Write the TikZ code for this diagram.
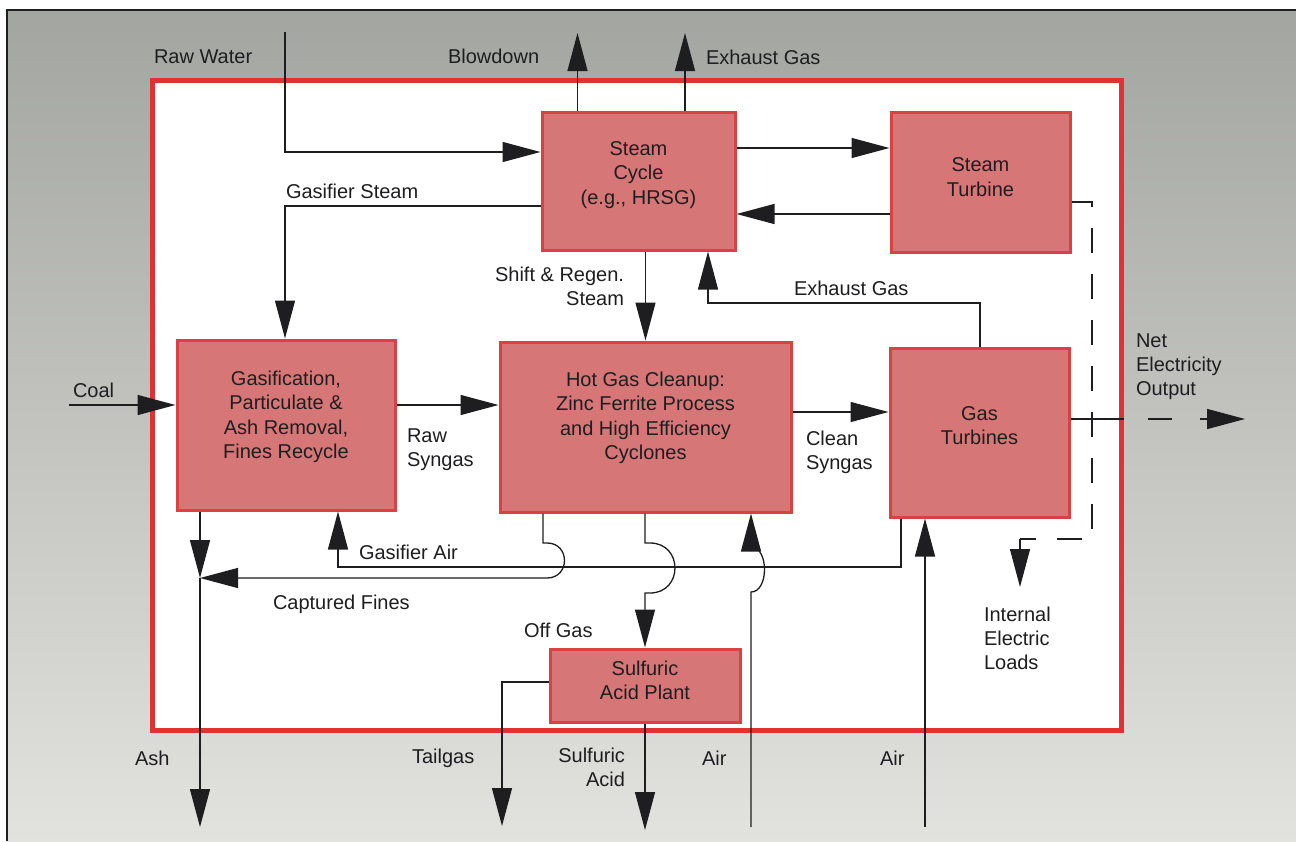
\documentclass[tikz,border=0pt]{standalone}
\usepackage{fontspec}
\setmainfont{Liberation Sans}
\usetikzlibrary{arrows.meta,calc}
\definecolor{bgtop}{RGB}{163,165,161}
\definecolor{bgbot}{RGB}{226,226,222}
\definecolor{framered}{RGB}{224,50,50}
\definecolor{boxfill}{RGB}{214,118,118}
\definecolor{boxedge}{RGB}{218,66,66}
\definecolor{ink}{RGB}{30,30,32}
\newcommand\boxtext[2]{\raisebox{#1}[\height][\depth]{\begin{tabular}{@{}c@{}}#2\end{tabular}}}
\begin{document}
\begin{tikzpicture}[x=1pt,y=-1pt,
  proc/.style={draw=boxedge, line width=3pt, fill=boxfill, text=ink,
    font=\fontsize{20}{24.5}\selectfont, inner sep=0pt},
  lbl/.style={text=ink, font=\fontsize{20}{24}\selectfont, inner sep=0pt, outer sep=0pt},
  conn/.style={draw=ink, line width=1.3pt},
  flow/.style={conn, -{Triangle[length=38pt,width=20pt]}},
  elec/.style={conn, dash pattern=on 25pt off 21pt}]
\useasboundingbox (0,0) rectangle (1296,841);
% background
\fill[white] (0,0) rectangle (1296,841);
\shade[top color=bgtop, bottom color=bgbot] (7,10) rectangle (1296,841);
\draw[ink, line width=1.5pt] (7,841) -- (7,10) -- (1296,10);
% system frame
\draw[framered, line width=5pt, fill=white] (152,80) rectangle (1121,730);
% process boxes
\node[proc, minimum width=193pt, minimum height=138pt] (sc) at (638.5,181) {\boxtext{6pt}{Steam\\Cycle\\(e.g., HRSG)}};
\node[proc, minimum width=179pt, minimum height=140pt] (st) at (980.5,182) {\boxtext{3pt}{Steam\\Turbine}};
\node[proc, minimum width=218pt, minimum height=170pt] (gas) at (286,425) {\boxtext{8pt}{Gasification,\\Particulate \&\\Ash Removal,\\Fines Recycle}};
\node[proc, minimum width=291pt, minimum height=170pt] (hgc) at (645.5,427) {\boxtext{9pt}{Hot Gas Cleanup:\\Zinc Ferrite Process\\and High Efficiency\\Cyclones}};
\node[proc, minimum width=179pt, minimum height=169pt] (gt) at (979.5,432.5) {\boxtext{5pt}{Gas\\Turbines}};
\node[proc, minimum width=190pt, minimum height=73pt] (sap) at (645,685.5) {\boxtext{3pt}{Sulfuric\\Acid Plant}};
% coordinates
\coordinate (rwIn) at (285,32);
\coordinate (rwT) at (285,152);
\coordinate (bdOut) at (577.5,33);
\coordinate (exOut) at (685,33);
\coordinate (s2t) at (800,148);
\coordinate (t2s) at (800,214);
\coordinate (gsC) at (285,206);
\coordinate (exA) at (980,303);
\coordinate (exB) at (708,303);
\coordinate (coalIn) at (69,405);
\coordinate (csY) at (800,412);
\coordinate (netA) at (1124,419);
\coordinate (netB) at (1148,419);
\coordinate (netC) at (1172,419);
\coordinate (netD) at (1200,419);
\coordinate (netE) at (1245,419);
\coordinate (dA) at (1092,202);
\coordinate (dB) at (1092,539);
\coordinate (dC) at (1020,539);
\coordinate (dD) at (1020,587);
\coordinate (gaR) at (901,567);
\coordinate (gaL) at (338,567);
\coordinate (cfT) at (543,543);
\coordinate (cfB) at (547,578);
\coordinate (ashM) at (200,578);
\coordinate (ashOut) at (200,827);
\coordinate (ogT) at (645,543);
\coordinate (a1B) at (751,827);
\coordinate (a1J) at (751,592);
\coordinate (a2B) at (925,827);
\coordinate (tgC) at (502,682);
\coordinate (tgOut) at (502,826);
\coordinate (saOut) at (645,830);
% connectors
\draw[flow] (rwIn) -- (rwT) -- (rwT -| sc.west);
\draw[flow] (bdOut |- sc.north) -- (bdOut);
\draw[flow] (exOut |- sc.north) -- (exOut);
\draw[flow] (s2t -| sc.east) -- (s2t -| st.west);
\draw[flow] (t2s -| st.west) -- (t2s -| sc.east);
\draw[flow] (gsC -| sc.west) -- (gsC) -- (gsC |- gas.north);
\draw[flow] (sc.south -| hgc.north) -- (hgc.north);
\draw[flow] (exA |- gt.north) -- (exA) -- (exB) -- (exB |- sc.south);
\draw[flow] (coalIn) -- (coalIn -| gas.west);
\draw[flow] (coalIn -| gas.east) -- (coalIn -| hgc.west);
\draw[flow] (csY -| hgc.east) -- (csY -| gt.west);
\draw[conn] (netA -| gt.east) -- (netA);
\draw[conn] (netB) -- (netC);
\draw[flow] (netD) -- (netE);
\draw[elec] (dA -| st.east) -- (dA) -- (dB) -- (dC);
\draw[flow] (dC) -- (dD);
\draw[flow] (gaR |- gt.south) -- (gaR) -- (gaL) -- (gaL |- gas.south);
\draw[flow] (cfT |- hgc.south) -- (cfT) -- ++(4,0) .. controls +(23.3,0) and +(23.3,0) .. (cfB) -- (ashM);
\draw[flow] (ashM |- gas.south) -- (ashM);
\draw[flow] (ashM) -- (ashOut);
\draw[flow] (sap.north |- hgc.south) -- (sap.north |- ogT) -- ++(5,0) .. controls +(33.3,0) and +(33.3,0) .. ++(0,50) -- ++(-5,0) -- (sap.north);
\draw[flow] (a1B) -- (a1J) .. controls +(18,0) and +(18,0) .. ++(0,-45) -- (a1J |- hgc.south);
\draw[flow] (a2B) -- (a2B |- gt.south);
\draw[flow] (tgC -| sap.west) -- (tgC) -- (tgOut);
\draw[flow] (sap.south) -- (saOut);
% labels
\node[lbl, anchor=base west] (tRW) at (154,63) {Raw Water};
\node[lbl, anchor=base west] (tBD) at (448,63) {Blowdown};
\node[lbl, anchor=base west] (tEG1) at (706,64) {Exhaust Gas};
\node[lbl, anchor=base west] (tGS) at (286,198) {Gasifier Steam};
\node[lbl, anchor=north east, align=right] (tSR) at (624,267) {Shift \& Regen.\\Steam};
\node[lbl, anchor=base west] (tEG2) at (794,295) {Exhaust Gas};
\node[lbl, anchor=base west] (tCoal) at (73,397) {Coal};
\node[lbl, anchor=north west, align=left] (tRS) at (407,429) {Raw\\Syngas};
\node[lbl, anchor=north west, align=left] (tCS) at (806,431) {Clean\\Syngas};
\node[lbl, anchor=north west, align=left] (tNet) at (1136,334) {Net\\Electricity\\Output};
\node[lbl, anchor=base west] (tGA) at (359,559) {Gasifier Air};
\node[lbl, anchor=base west] (tCF) at (273,609) {Captured Fines};
\node[lbl, anchor=base west] (tOG) at (524,637) {Off Gas};
\node[lbl, anchor=north west, align=left] (tIL) at (984,607) {Internal\\Electric\\Loads};
\node[lbl, anchor=base west] (tAsh) at (135,765) {Ash};
\node[lbl, anchor=base west] (tTG) at (412,763) {Tailgas};
\node[lbl, anchor=north east, align=right] (tSA) at (625,748) {Sulfuric\\Acid};
\node[lbl, anchor=base west] (tA1) at (702,765) {Air};
\node[lbl, anchor=base west] (tA2) at (880,765) {Air};
\end{tikzpicture}
\end{document}
